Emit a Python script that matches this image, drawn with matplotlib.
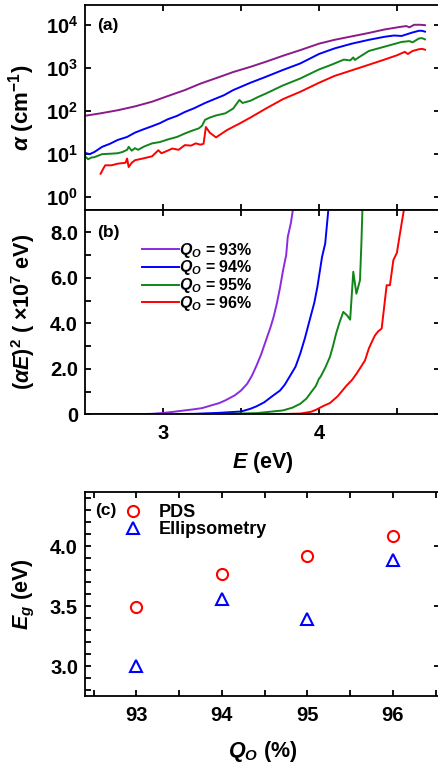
import matplotlib
matplotlib.use('Agg')
import matplotlib.pyplot as plt
from matplotlib.ticker import FixedLocator, FuncFormatter, MultipleLocator
import numpy as np

plt.rcParams['font.family'] = ['Liberation Sans', 'DejaVu Sans']
plt.rcParams['font.weight'] = 'bold'
plt.rcParams['axes.labelweight'] = 'bold'
plt.rcParams['mathtext.fontset'] = 'custom'
plt.rcParams['mathtext.rm'] = 'Liberation Sans:bold'
plt.rcParams['mathtext.bf'] = 'Liberation Sans:bold'
plt.rcParams['mathtext.it'] = 'Liberation Sans:bold:italic'
plt.rcParams['mathtext.sf'] = 'Liberation Sans:italic'   # thin italic greek
plt.rcParams['mathtext.tt'] = 'Liberation Sans'          # thin upright symbols

# absorption coefficient alpha (cm^-1) vs photon energy E (eV)
E_a93 = [2.50, 2.60, 2.71, 2.82, 2.93, 3.03, 3.14, 3.24, 3.35, 3.45, 3.56, 3.66, 3.77,
         3.88, 4.00, 4.10, 4.21, 4.32, 4.42, 4.52, 4.56, 4.58, 4.61, 4.65, 4.68]
alpha_93 = [78, 89, 105, 129, 166, 224, 309, 437, 603, 813, 1072, 1413, 1950,
            2630, 3715, 4571, 5495, 6607, 7943, 9120, 9550, 8913, 10230, 10230, 10000]

E_a94 = [2.50, 2.53, 2.56, 2.61, 2.66, 2.71, 2.77, 2.82, 2.87, 2.93, 2.98, 3.03, 3.09,
         3.14, 3.20, 3.27, 3.33, 3.39, 3.45, 3.56, 3.66, 3.77, 3.88, 4.00, 4.10, 4.21,
         4.32, 4.42, 4.48, 4.53, 4.59, 4.64, 4.66, 4.68]
alpha_94 = [10.7, 10.0, 11.2, 14.8, 17.4, 21.4, 25.1, 31.6, 37.2, 44.7, 52.5, 64.6, 77.6,
            95.5, 117, 155, 191, 234, 309, 457, 631, 912, 1288, 2138, 2884, 3715,
            4571, 5370, 5754, 5623, 6607, 7413, 7413, 7079]

E_a95 = [2.50, 2.52, 2.54, 2.56, 2.61, 2.66, 2.71, 2.74, 2.77, 2.78, 2.80, 2.82, 2.84,
         2.88, 2.93, 2.98, 3.03, 3.09, 3.14, 3.19, 3.23, 3.25, 3.27, 3.30, 3.34, 3.40,
         3.45, 3.49, 3.51, 3.56, 3.61, 3.66, 3.77, 3.88, 4.00, 4.08, 4.16, 4.20, 4.22,
         4.23, 4.25, 4.32, 4.42, 4.53, 4.58, 4.60, 4.64, 4.66, 4.68]
alpha_95 = [8.9, 7.6, 8.3, 8.5, 10.0, 10.2, 10.5, 11.2, 12.6, 14.8, 12.0, 13.8, 12.6,
            15.1, 17.8, 19.1, 21.9, 25.1, 30.2, 35.5, 39.8, 45.7, 63.1, 70.8, 79.4, 89.1,
            115, 182, 155, 174, 214, 257, 398, 575, 933, 1202, 1585, 1514, 1778,
            1549, 1738, 2512, 3162, 4074, 4266, 3981, 4898, 5012, 4677]

E_a96 = [2.60, 2.62, 2.63, 2.67, 2.71, 2.76, 2.77, 2.78, 2.80, 2.82, 2.87, 2.93, 2.97,
         2.99, 3.01, 3.06, 3.10, 3.14, 3.18, 3.21, 3.24, 3.26, 3.275, 3.30, 3.34, 3.41,
         3.49, 3.56, 3.66, 3.77, 3.88, 4.00, 4.10, 4.21, 4.32, 4.42, 4.50, 4.55, 4.57,
         4.60, 4.64, 4.66, 4.68]
alpha_96 = [3.5, 4.8, 5.5, 5.5, 6.0, 6.3, 7.9, 5.0, 6.3, 7.2, 7.9, 8.9, 12.3,
            10.5, 11.2, 13.5, 12.6, 16.2, 15.8, 17.8, 16.6, 17.4, 42.7, 31.6, 24.5, 36.3,
            51.3, 70.8, 115, 191, 282, 457, 661, 891, 1202, 1585, 1995, 2399, 2138,
            2512, 2754, 2818, 2692]

# Tauc-type plot, (alpha*E)^2 in units of 1e7
E_b93 = [2.50, 2.80, 2.93, 3.00, 3.07, 3.14, 3.20, 3.25, 3.31, 3.36, 3.40, 3.46, 3.50,
         3.54, 3.57, 3.60, 3.63, 3.65, 3.69, 3.71, 3.73, 3.75, 3.77, 3.79, 3.80, 3.82, 3.84]
tauc_93 = [0.00, 0.01, 0.03, 0.07, 0.12, 0.18, 0.23, 0.28, 0.40, 0.50, 0.62, 0.84, 1.05,
           1.35, 1.70, 2.15, 2.65, 3.05, 3.84, 4.30, 4.87, 5.55, 6.33, 7.00, 7.79, 8.40, 9.30]

E_b94 = [2.50, 3.00, 3.20, 3.35, 3.45, 3.50, 3.56, 3.60, 3.65, 3.70, 3.75, 3.78, 3.81,
         3.85, 3.88, 3.91, 3.94, 3.97, 3.99, 4.02, 4.04, 4.06, 4.07]
tauc_94 = [0.00, 0.01, 0.03, 0.07, 0.11, 0.13, 0.25, 0.36, 0.54, 0.80, 1.05, 1.30, 1.64,
           2.10, 2.67, 3.35, 4.13, 4.90, 5.60, 6.92, 7.50, 8.97, 9.30]

E_b95 = [2.50, 3.30, 3.60, 3.77, 3.83, 3.88, 3.92, 3.95, 3.98, 4.00, 4.01, 4.04, 4.07,
         4.09, 4.11, 4.13, 4.156, 4.18, 4.20, 4.22, 4.24, 4.25, 4.263, 4.272, 4.28]
tauc_95 = [0.00, 0.01, 0.06, 0.18, 0.30, 0.47, 0.70, 0.98, 1.25, 1.57, 1.65, 2.05, 2.52,
           3.00, 3.55, 4.00, 4.50, 4.35, 4.16, 6.26, 5.30, 5.55, 5.89, 7.50, 9.30]

E_b96 = [2.50, 3.70, 3.88, 3.95, 3.985, 4.03, 4.07, 4.12, 4.177, 4.21, 4.241, 4.27, 4.295,
         4.32, 4.34, 4.359, 4.38, 4.402, 4.434, 4.455, 4.477, 4.50, 4.509, 4.53, 4.545, 4.55]
tauc_96 = [0.00, 0.01, 0.04, 0.12, 0.22, 0.38, 0.50, 0.80, 1.27, 1.50, 1.79, 2.10, 2.37,
           2.90, 3.20, 3.47, 3.65, 3.77, 5.67, 5.67, 6.77, 7.10, 7.50, 8.38, 9.00, 9.30]

# band gap vs oxygen quality
Q_O = [93, 94, 95, 96]
Eg_pds = [3.49, 3.77, 3.92, 4.085]
Eg_ellips = [3.00, 3.555, 3.39, 3.88]

labels = [r'$Q_O$ = 93%', r'$Q_O$ = 94%', r'$Q_O$ = 95%', r'$Q_O$ = 96%']
colors_a = ['#8B1A8B', '#0000FF', '#12851A', '#FF0000']
colors_b = ['#8A2BE2', '#0000FF', '#12851A', '#FF0000']

fig = plt.figure(figsize=(4.38, 7.65), dpi=100)
W = 355 / 438
L = 85 / 438
ax1 = fig.add_axes([L, 1 - 210 / 765, W, 205 / 765])
ax2 = fig.add_axes([L, 1 - 414.5 / 765, W, 204.5 / 765])
ax3 = fig.add_axes([L, 1 - 696 / 765, W, 204 / 765])

fs = 14.5   # tick labels
lfs = 15.5  # axis labels

def style(ax):
    for sp in ax.spines.values():
        sp.set_linewidth(1.3)
    ax.tick_params(which='both', direction='in', top=True, right=True,
                   width=1.3, length=4.5, labelsize=fs)
    ax.tick_params(axis='y', pad=5)
    ax.tick_params(axis='x', pad=7)
    for t in ax.get_xticklabels() + ax.get_yticklabels():
        t.set_fontweight('bold')

# (a) absorption spectra
for E, a, c in zip([E_a93, E_a94, E_a95, E_a96], [alpha_93, alpha_94, alpha_95, alpha_96], colors_a):
    ax1.plot(E, a, color=c, lw=1.4)
ax1.set_yscale('log')
ax1.set_ylim(10 ** -0.3, 10 ** 4.47)
ax1.set_xlim(2.5, 4.776)
ax1.yaxis.set_major_locator(FixedLocator([1, 10, 100, 1000, 10000]))
ax1.yaxis.set_minor_locator(FixedLocator([]))
ax1.yaxis.set_major_formatter(FuncFormatter(lambda v, p: r'$\mathbf{10^{%d}}$' % round(np.log10(v))))
ax1.set_ylabel(r'$\mathsf{\alpha}$ (cm$^{-1}$)', fontsize=lfs + 0.5)
ax1.text(0.035, 0.9, '(a)', transform=ax1.transAxes, fontsize=12.5, fontweight='bold', va='center')

# (b) (alpha E)^2
for E, t, c, lab in zip([E_b93, E_b94, E_b95, E_b96], [tauc_93, tauc_94, tauc_95, tauc_96], colors_b, labels):
    ax2.plot(E, t, color=c, lw=1.4, label=lab)
ax2.set_xlim(2.5, 4.776)
ax2.set_ylim(0, 8.97)
ax2.yaxis.set_major_locator(MultipleLocator(2))
ax2.yaxis.set_minor_locator(MultipleLocator(1))
ax2.yaxis.set_major_formatter(FuncFormatter(lambda v, p: '0' if abs(v) < 1e-9 else '%.1f' % v))
ax2.set_ylabel(r'($\mathsf{\alpha}E$)$^2$ ( $\mathtt{\times}$10$^7$ eV)', fontsize=lfs)
ax2.set_xlabel(r'$E$ (eV)', fontsize=lfs)
ax2.text(0.035, 0.89, '(b)', transform=ax2.transAxes, fontsize=12.5, fontweight='bold', va='center')
ax2.legend(loc='upper left', bbox_to_anchor=(0.16, 0.85), frameon=False, fontsize=11.5,
           handlelength=2.3, handletextpad=0.0, labelspacing=-0.08, borderpad=0, borderaxespad=0)

for ax in (ax1, ax2):
    ax.xaxis.set_major_locator(FixedLocator([3, 4]))
    ax.xaxis.set_minor_locator(FixedLocator([3.5, 4.5]))
ax1.tick_params(axis='x', labelbottom=False)

# (c) band gap
ax3.plot(Q_O, Eg_pds, 'o', mfc='none', mec='#FF0000', mew=1.5, ms=8, label='PDS')
ax3.plot(Q_O, Eg_ellips, '^', mfc='none', mec='#0000FF', mew=1.5, ms=8, label='Ellipsometry')
ax3.set_xlim(92.4, 96.55)
ax3.set_ylim(2.75, 4.45)
ax3.xaxis.set_major_locator(MultipleLocator(1))
ax3.xaxis.set_minor_locator(MultipleLocator(0.5))
ax3.yaxis.set_major_locator(MultipleLocator(0.5))
ax3.yaxis.set_minor_locator(MultipleLocator(0.1))
ax3.yaxis.set_major_formatter(FuncFormatter(lambda v, p: '%.1f' % v))
ax3.set_ylabel(r'$E_g$ (eV)', fontsize=lfs)
ax3.set_xlabel(r'$Q_O$ (%)', fontsize=lfs)
ax3.text(0.028, 0.91, '(c)', transform=ax3.transAxes, fontsize=12.5, fontweight='bold', va='center')
ax3.legend(loc='upper left', bbox_to_anchor=(0.11, 0.94), frameon=False, fontsize=13,
           handlelength=1.0, handletextpad=0.9, labelspacing=-0.02, borderpad=0, borderaxespad=0)

for ax in (ax1, ax2, ax3):
    style(ax)
ax2.tick_params(which='minor', axis='y', right=False)
ax3.tick_params(which='minor', axis='y', right=False)

for ax in (ax1, ax2, ax3):
    ax.yaxis.set_label_coords(-0.135, 0.5)
ax2.xaxis.set_label_coords(0.5, -0.175)
ax3.xaxis.set_label_coords(0.5, -0.21)

fig.savefig('out.png', dpi=100)
